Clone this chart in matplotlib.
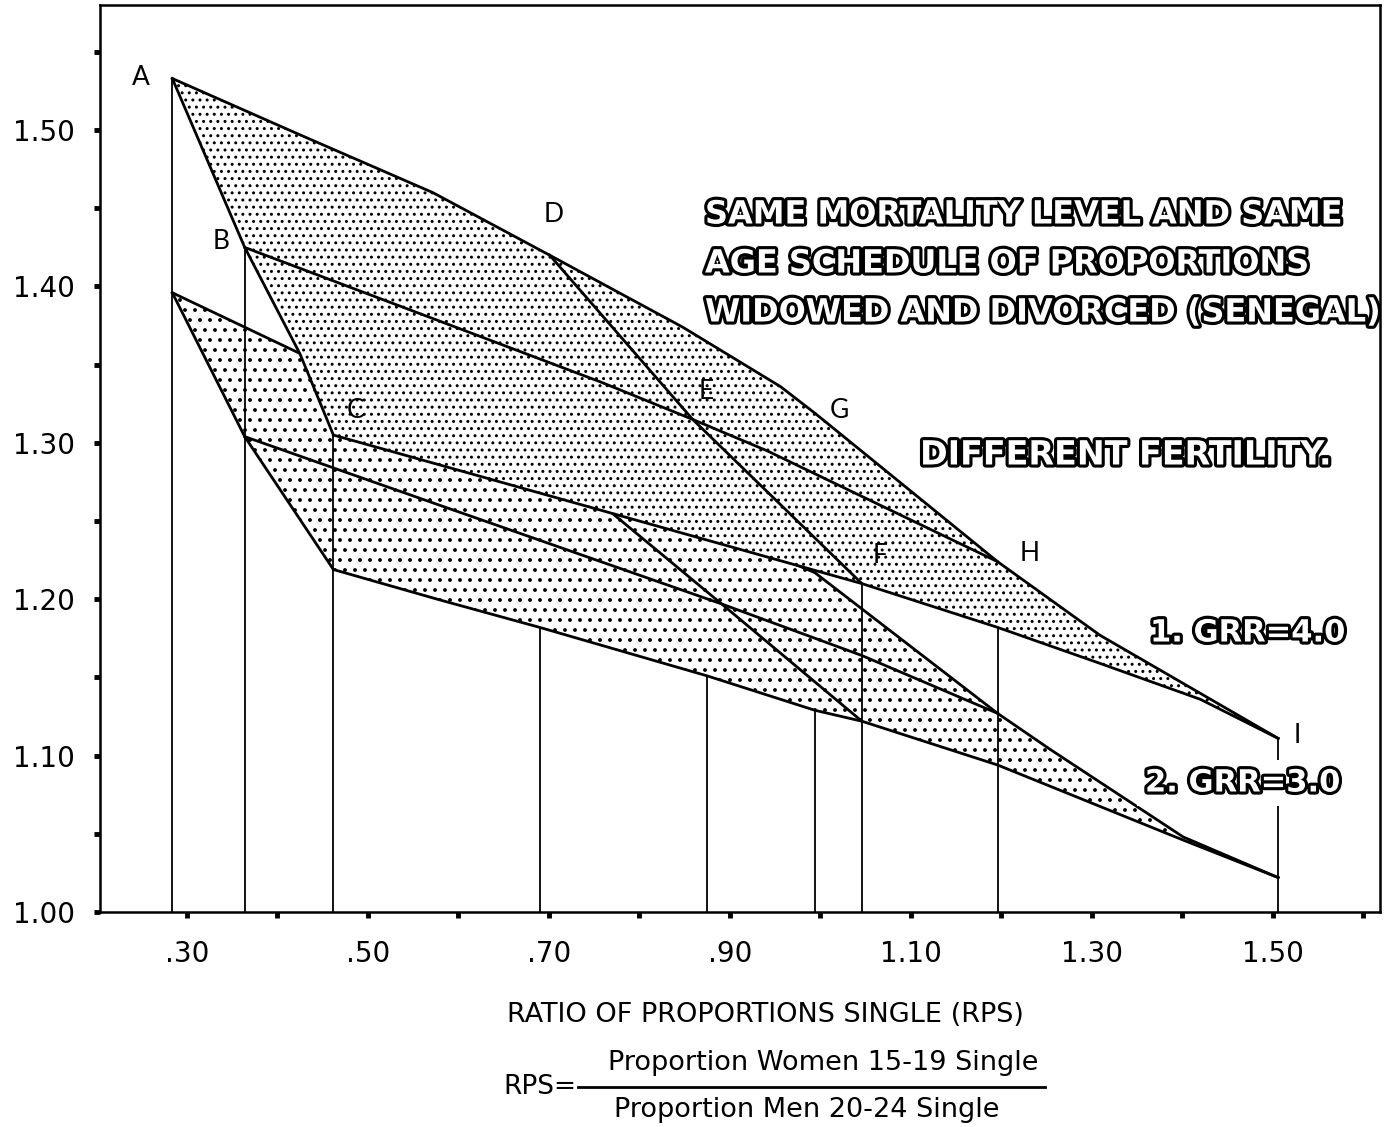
import numpy as np
import matplotlib
matplotlib.use("Agg")
import matplotlib.pyplot as plt
import matplotlib.hatch as mhatch
from matplotlib import patheffects as pe
from matplotlib.lines import Line2D

# ---------------- data ----------------
# GRR = 4.0 grid (upper, densely dotted)
g4_top_x = [0.284, 0.425, 0.572, 0.701, 0.848, 0.956, 0.994, 1.196, 1.309, 1.506]
g4_top_y = [1.533, 1.497, 1.460, 1.420, 1.374, 1.336, 1.319, 1.224, 1.177, 1.111]
g4_bot_x = [0.462, 1.046, 1.196, 1.309, 1.420, 1.506]
g4_bot_y = [1.305, 1.210, 1.182, 1.159, 1.136, 1.111]
g4_left_x = [0.284, 0.364, 0.425, 0.462]
g4_left_y = [1.533, 1.425, 1.357, 1.305]
g4_mid_x = [0.364, 0.757, 0.859, 0.941, 1.196]      # B - E - H
g4_mid_y = [1.425, 1.339, 1.315, 1.295, 1.224]
g4_cross_x = [0.701, 0.859, 1.046]                  # D - E - F
g4_cross_y = [1.420, 1.315, 1.210]

# GRR = 3.0 grid (lower, sparsely dotted)
g3_top_x = [0.284, 0.422, 0.690, 0.994, 1.196, 1.254, 1.401, 1.506]
g3_top_y = [1.396, 1.358, 1.292, 1.217, 1.127, 1.104, 1.048, 1.022]
g3_bot_x = [0.462, 0.580, 0.690, 0.875, 0.994, 1.046, 1.196, 1.401, 1.506]
g3_bot_y = [1.219, 1.1995, 1.182, 1.151, 1.129, 1.122, 1.094, 1.046, 1.022]
g3_left_x = [0.284, 0.364, 0.462]
g3_left_y = [1.396, 1.304, 1.219]
g3_mid_x = [0.364, 0.462, 0.580, 0.891, 1.046, 1.196]
g3_mid_y = [1.304, 1.284, 1.260, 1.197, 1.164, 1.127]
g3_cross_x = [0.690, 0.768, 0.891, 1.046]
g3_cross_y = [1.292, 1.256, 1.197, 1.122]

# vertical drop lines
drop_x = [0.284, 0.364, 0.462, 0.690, 0.875, 0.994, 1.046, 1.196, 1.506]
drop_top = [1.533, 1.425, 1.305, 1.182, 1.151, 1.129, 1.210, 1.182, 1.111]

# node labels of the GRR=4.0 grid
node_names = ["A", "B", "C", "D", "E", "F", "G", "H", "I"]
node_x = [0.284, 0.364, 0.462, 0.701, 0.859, 1.046, 0.994, 1.196, 1.506]
node_y = [1.533, 1.425, 1.305, 1.420, 1.315, 1.210, 1.319, 1.224, 1.111]
node_off = [(-23, 1), (-17, 4), (16, 18), (3, 29), (10, 20), (13, 20), (18, 2), (23, 6), (14, 2)]

xticks_major = [0.30, 0.50, 0.70, 0.90, 1.10, 1.30, 1.50]
xtick_labels = [".30", ".50", ".70", ".90", "1.10", "1.30", "1.50"]
xticks_minor = [0.40, 0.60, 0.80, 1.00, 1.20, 1.40, 1.60]
yticks_major = [1.00, 1.10, 1.20, 1.30, 1.40, 1.50]
ytick_labels = ["1.00", "1.10", "1.20", "1.30", "1.40", "1.50"]
yticks_minor = [1.05, 1.15, 1.25, 1.35, 1.45, 1.55]

title_lines = ["SAME MORTALITY LEVEL AND SAME",
               "AGE SCHEDULE OF PROPORTIONS",
               "WIDOWED AND DIVORCED (SENEGAL)"]


# ---------------- dot-screen density (styling only) ----------------
def _dots_init(self, hatch, density):
    # even number of rows keeps matplotlib's vertex count consistent
    self.num_rows = 2 * int(round(hatch.count('.') * density * 0.39))
    mhatch.Circles.__init__(self, hatch, density)


mhatch.SmallFilledCircles.__init__ = _dots_init

# ---------------- figure ----------------
W, H = 1396, 1127
fig = plt.figure(figsize=(W / 100, H / 100), dpi=100)
ax = fig.add_axes([100 / W, 1 - 912 / H, 1280 / W, 907 / H])
ax.set_xlim(0.2041, 1.6185)
ax.set_ylim(1.0, 1.58)

thin = ["Lato", "DejaVu Sans"]


def poly(top_x, top_y, bot_x, bot_y, left_x, left_y):
    xs = list(top_x) + list(bot_x[::-1]) + list(left_x[::-1][1:-1])
    ys = list(top_y) + list(bot_y[::-1]) + list(left_y[::-1][1:-1])
    return xs, ys


# vertical drop lines
ax.vlines(drop_x, 1.0, drop_top, colors="black", linewidth=1.3, zorder=1)

# lower grid
plt.rcParams["hatch.linewidth"] = 1.3
px, py = poly(g3_top_x, g3_top_y, g3_bot_x, g3_bot_y, g3_left_x, g3_left_y)
ax.fill(px, py, facecolor="none", edgecolor="black", hatch="..", linewidth=0, zorder=2)
for xs, ys in [(g3_top_x, g3_top_y), (g3_bot_x, g3_bot_y), (g3_left_x, g3_left_y),
               (g3_mid_x, g3_mid_y), (g3_cross_x, g3_cross_y)]:
    ax.plot(xs, ys, color="black", linewidth=2.0, zorder=3, solid_joinstyle="round")

# upper grid
plt.rcParams["hatch.linewidth"] = 1.15
px, py = poly(g4_top_x, g4_top_y, g4_bot_x, g4_bot_y, g4_left_x, g4_left_y)
ax.fill(px, py, facecolor="white", edgecolor="black", hatch="...", linewidth=0, zorder=4)
for xs, ys in [(g4_top_x, g4_top_y), (g4_bot_x, g4_bot_y), (g4_left_x, g4_left_y),
               (g4_mid_x, g4_mid_y), (g4_cross_x, g4_cross_y)]:
    ax.plot(xs, ys, color="black", linewidth=2.0, zorder=5, solid_joinstyle="round")

# node letters
for name, x, y, off in zip(node_names, node_x, node_y, node_off):
    ax.annotate(name, (x, y), xytext=off, textcoords="offset points",
                ha="center", va="center", fontsize=19, family=thin,
                fontweight="normal", zorder=6)

# axes styling
for s in ax.spines.values():
    s.set_linewidth(1.8)
ax.set_xticks(xticks_major)
ax.set_xticklabels(xtick_labels, family="DejaVu Sans", fontsize=20)
ax.set_xticks(xticks_minor, minor=True)
ax.set_yticks(yticks_major)
ax.set_yticklabels(ytick_labels, family="DejaVu Sans", fontsize=20)
ax.set_yticks(yticks_minor, minor=True)
ax.tick_params(axis="both", which="both", direction="out", length=4, width=3.5)
ax.tick_params(axis="x", which="major", pad=16)
ax.tick_params(axis="y", which="major", pad=14)

# outlined captions
outline = [pe.Stroke(linewidth=4.5, foreground="black"), pe.Normal()]
cap_kw = dict(color="white", fontweight="bold", family="DejaVu Sans",
              path_effects=outline, va="center", ha="left")
for i, line in enumerate(title_lines):
    fig.text(705 / W, 1 - (215 + 49 * i) / H, line, fontsize=23.0, **cap_kw)
fig.text(920 / W, 1 - 455 / H, "DIFFERENT FERTILITY.", fontsize=24, **cap_kw)
fig.text(1150 / W, 1 - 633 / H, "1. GRR=4.0", fontsize=22, **cap_kw)
t2 = fig.text(1145 / W, 1 - 783 / H, "2. GRR=3.0", fontsize=22, **cap_kw)
t2.set_bbox(dict(facecolor="white", edgecolor="none", pad=6))
t2.set_zorder(7)

# x-axis title and formula
fig.text(765 / W, 1 - 1015 / H, "RATIO OF PROPORTIONS SINGLE (RPS)",
         family="DejaVu Sans", fontsize=19.5, ha="center", va="center")
fig.text(540 / W, 1 - 1087 / H, "RPS=", family="DejaVu Sans", fontsize=19,
         ha="center", va="center")
fig.text(823 / W, 1 - 1063 / H, "Proportion Women 15-19 Single",
         family="DejaVu Sans", fontsize=19.5, ha="center", va="center")
fig.text(807 / W, 1 - 1110 / H, "Proportion Men 20-24 Single",
         family="DejaVu Sans", fontsize=19.5, ha="center", va="center")
fig.add_artist(Line2D([578 / W, 1045 / W], [1 - 1087 / H, 1 - 1087 / H],
                      color="black", linewidth=2))

fig.savefig("out.png", dpi=100)
